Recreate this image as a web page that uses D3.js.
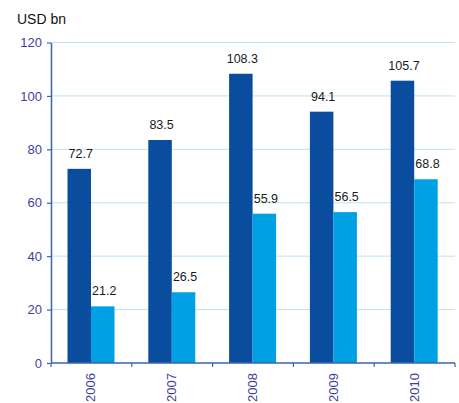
<!DOCTYPE html>
<html>
<head>
<meta charset="utf-8">
<script src="https://cdn.jsdelivr.net/npm/d3@7"></script>
<style>
  body { margin: 0; background: #fff; }
  svg text { font-family: "Liberation Sans", Arial, sans-serif; }
</style>
</head>
<body>
<div id="chart"></div>
<script>
const years = ["2006", "2007", "2008", "2009", "2010"];
const seriesA = [72.7, 83.5, 108.3, 94.1, 105.7];
const seriesB = [21.2, 26.5, 55.9, 56.5, 68.8];
const yTicks = [0, 20, 40, 60, 80, 100, 120];

const width = 459, height = 403;
const margin = { top: 42.5, right: 4, bottom: 40, left: 51 };

const svg = d3.select("#chart").append("svg")
  .attr("width", width)
  .attr("height", height);

const x = d3.scaleBand()
  .domain(years)
  .range([margin.left, width - margin.right]);

const y = d3.scaleLinear()
  .domain([0, 120])
  .range([height - margin.bottom, margin.top]);

const inner = d3.scaleBand()
  .domain(["a", "b"])
  .range([16.5, 16.5 + 47]);

// gridlines
svg.append("g")
  .selectAll("line")
  .data(yTicks.filter(d => d > 0))
  .join("line")
  .attr("x1", margin.left)
  .attr("x2", width - margin.right)
  .attr("y1", d => y(d))
  .attr("y2", d => y(d))
  .attr("stroke", "#b9e3f7")
  .attr("stroke-width", 1);

const data = years.map((yr, i) => ({ year: yr, a: seriesA[i], b: seriesB[i] }));

const groups = svg.append("g")
  .selectAll("g")
  .data(data)
  .join("g")
  .attr("transform", d => `translate(${x(d.year)},0)`);

const colors = { a: "#0a4d9f", b: "#00a1e4" };

["a", "b"].forEach(k => {
  groups.append("rect")
    .attr("x", inner(k))
    .attr("width", inner.bandwidth())
    .attr("y", d => y(d[k]))
    .attr("height", d => y(0) - y(d[k]))
    .attr("fill", colors[k]);

  groups.append("text")
    .attr("x", inner(k) + inner.bandwidth() / 2 + 1.5)
    .attr("y", d => y(d[k]) - 11)
    .attr("text-anchor", "middle")
    .attr("font-size", "12.5px")
    .attr("fill", "#1a1a1a")
    .text(d => d[k].toFixed(1));
});

// y axis
const yAxis = svg.append("g")
  .attr("transform", `translate(${margin.left},0)`)
  .call(d3.axisLeft(y).tickValues(yTicks).tickSize(4).tickSizeOuter(0));
yAxis.select(".domain").attr("stroke", "#3b63ad").attr("stroke-width", 1.5);
yAxis.selectAll(".tick line").attr("stroke", "#3b63ad").attr("stroke-width", 1.2);
yAxis.selectAll(".tick text")
  .attr("font-size", "13px")
  .attr("fill", "#3f3f9c")
  .attr("x", -9)
  .attr("font-family", "Liberation Sans, Arial, sans-serif");

// x axis
const xAxisG = svg.append("g")
  .attr("transform", `translate(0,${y(0)})`);
xAxisG.append("line")
  .attr("x1", margin.left)
  .attr("x2", width - margin.right)
  .attr("stroke", "#3b63ad")
  .attr("stroke-width", 1.5);
xAxisG.selectAll("line.tk")
  .data(years.concat(["end"]))
  .join("line")
  .attr("class", "tk")
  .attr("x1", (d, i) => i < years.length ? x(d) : x.range()[1])
  .attr("x2", (d, i) => i < years.length ? x(d) : x.range()[1])
  .attr("y1", 0)
  .attr("y2", 4)
  .attr("stroke", "#3b63ad")
  .attr("stroke-width", 1.2);
xAxisG.selectAll("text")
  .data(years)
  .join("text")
  .attr("transform", d => `translate(${x(d) + x.bandwidth() / 2 + 4},10) rotate(-90)`)
  .attr("text-anchor", "end")
  .attr("font-size", "13px")
  .attr("fill", "#3f3f9c")
  .text(d => d);

// unit label
svg.append("text")
  .attr("x", 17)
  .attr("y", 24)
  .attr("font-size", "14px")
  .attr("fill", "#111")
  .text("USD bn");
</script>
</body>
</html>
